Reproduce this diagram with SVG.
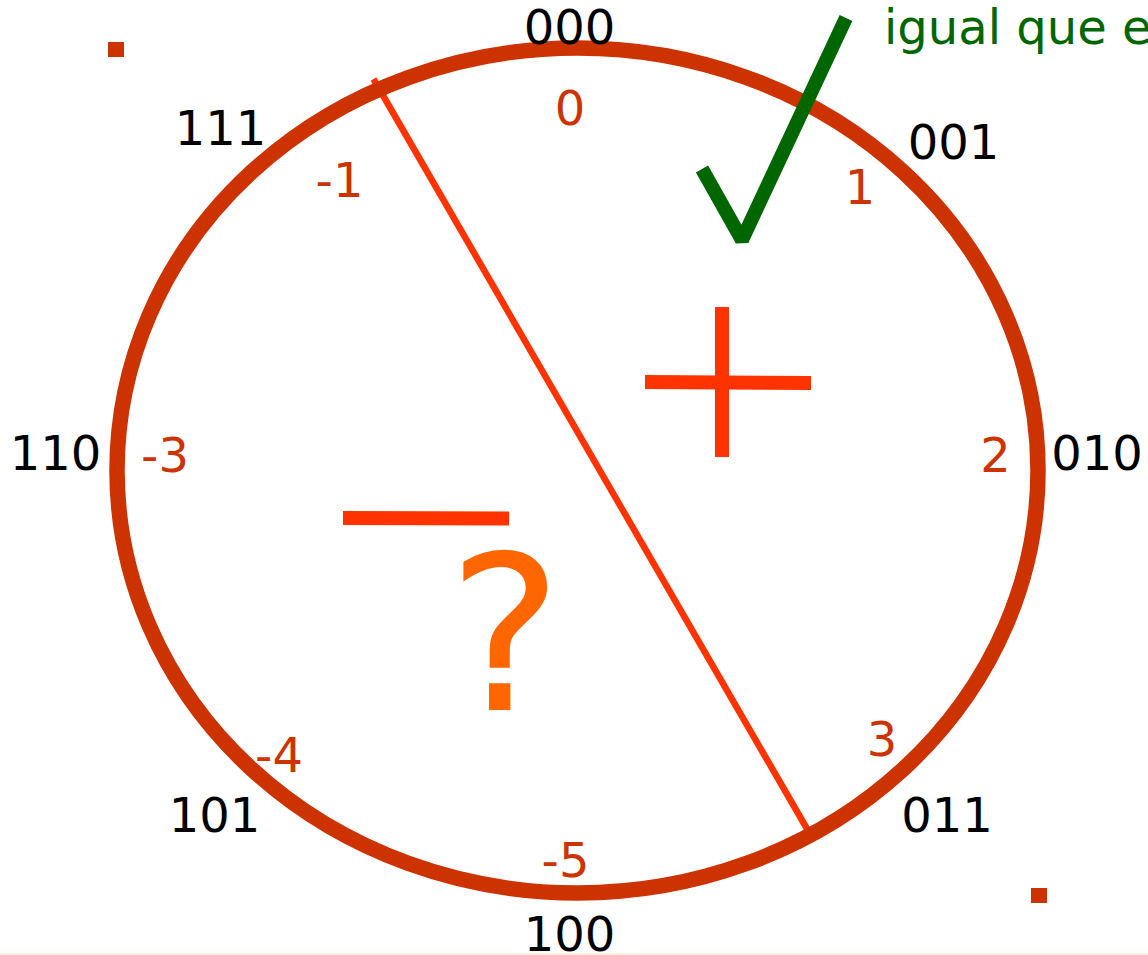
<svg xmlns="http://www.w3.org/2000/svg" width="1148" height="955" viewBox="0 0 1148 955">
<style>
.bin{font-family:"DejaVu Sans",sans-serif;font-size:48px;fill:#000;text-anchor:middle}
.dec{font-family:"DejaVu Sans",sans-serif;font-size:48px;fill:#cc3300;text-anchor:middle}
.sq{fill:#cc3300}
</style>
<rect x="0" y="0" width="1148" height="955" fill="#fff"/>
<rect x="0" y="953" width="1148" height="2" fill="#fcefdf"/>
<g id="connectors">
<line x1="373.5" y1="79" x2="810" y2="834" stroke="#ff3300" stroke-width="6.5"/>
</g>
<g id="circle">
<ellipse cx="577.5" cy="470.5" rx="460.5" ry="422.5" fill="none" stroke="#cc3300" stroke-width="15.5"/>
</g>
<g id="markers">
<rect class="sq" x="108" y="42" width="16" height="15"/>
<rect class="sq" x="1031" y="888" width="16" height="15"/>
</g>
<g id="binary-labels">
<text class="bin" x="569.5" y="44">000</text>
<text class="bin" x="953.5" y="159">001</text>
<text class="bin" x="1097" y="470">010</text>
<text class="bin" x="947" y="832">011</text>
<text class="bin" x="569.5" y="951">100</text>
<text class="bin" x="214.5" y="832">101</text>
<text class="bin" x="55.5" y="470">110</text>
<text class="bin" x="220.5" y="145">111</text>
</g>
<g id="decimal-labels">
<text class="dec" x="570" y="125">0</text>
<text class="dec" x="860" y="204">1</text>
<text class="dec" x="995.5" y="472">2</text>
<text class="dec" x="882" y="756">3</text>
<text class="dec" x="565.5" y="877">-5</text>
<text class="dec" x="279" y="772">-4</text>
<text class="dec" x="165" y="472">-3</text>
<text class="dec" x="339.5" y="197">-1</text>
</g>
<g id="plus">
<rect x="715" y="307" width="14" height="150" fill="#ff3300"/>
<polygon points="645,375 811,376 811,390 645,389" fill="#ff3300"/>
</g>
<g id="minus">
<polygon points="343,511 509,511.5 509,525.5 343,525" fill="#ff3300"/>
</g>
<g id="question">
<text x="505" y="710" font-family="DejaVu Sans, sans-serif" font-size="215" fill="#ff6600" text-anchor="middle">?</text>
</g>
<g id="check">
<polyline points="702,169 742,240 846,18" fill="none" stroke="#006600" stroke-width="14" stroke-linejoin="bevel"/>
<text x="884" y="44" font-family="DejaVu Sans, sans-serif" font-size="48" fill="#006600">igual que e</text>
</g>
</svg>
